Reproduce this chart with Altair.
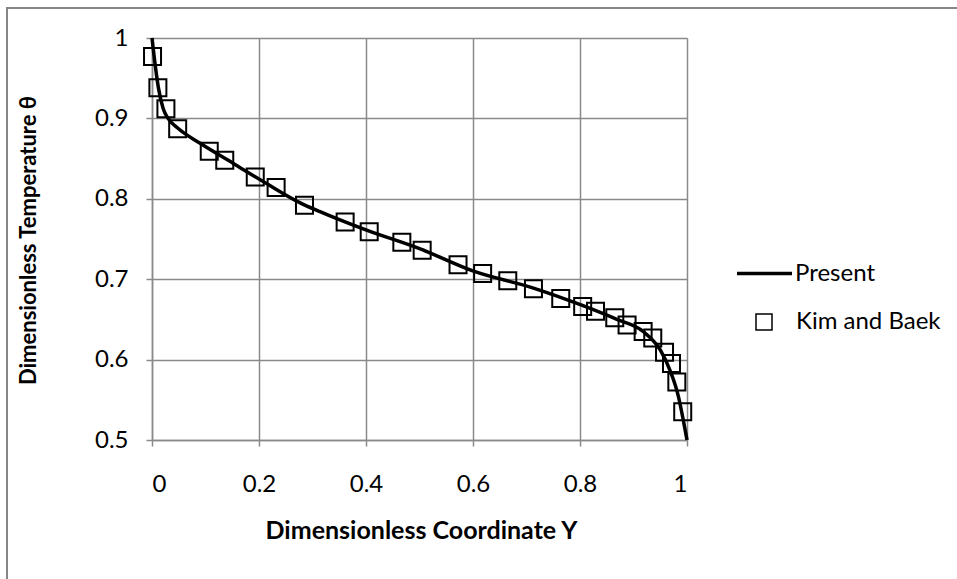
import altair as alt
import pandas as pd

# "Present" solution curve
present_x = [0.0, 0.004, 0.012, 0.021, 0.030, 0.048, 0.09, 0.152, 0.214, 0.277, 0.314,
             0.401, 0.5, 0.601, 0.713, 0.802, 0.869, 0.918, 0.950, 0.968, 0.984, 0.993, 1.0]
present_y = [1.0, 0.977, 0.938, 0.912, 0.900, 0.888, 0.869, 0.844, 0.819, 0.795, 0.784,
             0.761, 0.738, 0.710, 0.689, 0.668, 0.650, 0.635, 0.612, 0.587, 0.554, 0.525, 0.5]

# Kim and Baek reference data
kim_x = [0.001, 0.011, 0.026, 0.048, 0.107, 0.136, 0.193, 0.232, 0.285, 0.361, 0.406,
         0.467, 0.505, 0.572, 0.618, 0.665, 0.713, 0.764, 0.805, 0.829, 0.865, 0.888,
         0.918, 0.936, 0.958, 0.971, 0.981, 0.992]
kim_y = [0.977, 0.938, 0.912, 0.887, 0.859, 0.848, 0.827, 0.814, 0.792, 0.771, 0.759,
         0.746, 0.736, 0.718, 0.707, 0.698, 0.688, 0.676, 0.666, 0.660, 0.652, 0.643,
         0.635, 0.627, 0.609, 0.595, 0.572, 0.535]

x_ticks = [0, 0.2, 0.4, 0.6, 0.8, 1.0]
y_ticks = [0.5, 0.6, 0.7, 0.8, 0.9, 1.0]

present_df = pd.DataFrame({"Y": present_x, "theta": present_y, "series": "Present"})
kim_df = pd.DataFrame({"Y": kim_x, "theta": kim_y, "series": "Kim and Baek"})

FONT = "Lato"
GRID = "#8a8a8a"

x_enc = alt.X("Y:Q", scale=alt.Scale(domain=[0, 1], nice=False),
              axis=alt.Axis(values=x_ticks, format="~g", title="Dimensionless Coordinate Y",
                            titleX=269, titleY=90, titleBaseline="middle", titleAlign="center",
                            titleFontSize=25, labelPadding=26))
y_enc = alt.Y("theta:Q", scale=alt.Scale(domain=[0.5, 1], nice=False, zero=False),
              axis=alt.Axis(values=y_ticks, format="~g", title="Dimensionless Temperature θ",
                            titleX=-124, titleY=202, titleAngle=-90, titleBaseline="middle",
                            titleAlign="center", titleFontSize=22, labelPadding=18))

border = alt.Chart(pd.DataFrame({"a": [0]})).mark_rect(
    fill=None, stroke="#868686", strokeWidth=2
).encode(x=alt.value(-145), x2=alt.value(808), y=alt.value(-30), y2=alt.value(545))

line = alt.Chart(present_df).mark_line(strokeWidth=3.5, interpolate="monotone").encode(
    x=x_enc, y=y_enc,
    stroke=alt.Stroke("series:N", scale=alt.Scale(domain=["Present"], range=["black"]),
                      legend=alt.Legend(title=None, orient="none", legendX=583, legendY=206,
                                        symbolType="stroke", symbolSize=3025,
                                        symbolStrokeWidth=3.5, labelOffset=1)),
)

points = alt.Chart(kim_df).mark_point(filled=False, size=289, strokeWidth=2, opacity=1,
                                      color="black").encode(
    x="Y:Q", y="theta:Q",
    shape=alt.Shape("series:N", scale=alt.Scale(domain=["Kim and Baek"], range=["square"]),
                    legend=alt.Legend(title=None, orient="none", legendX=600, legendY=272,
                                      symbolSize=256, symbolStrokeWidth=1.5,
                                      symbolStrokeColor="black", symbolFillColor="white",
                                      labelOffset=20)),
)

chart = alt.layer(border, line, points).properties(
    width=535, height=402,
    autosize=alt.AutoSizeParams(type="none"),
    padding={"left": 152, "top": 38, "right": 270, "bottom": 139},
).configure_view(stroke=None).configure_axis(
    labelFont=FONT, labelFontSize=24, labelColor="black",
    titleFont=FONT, titleFontWeight="bold", titleColor="black",
    gridColor=GRID, gridWidth=1.5, domainColor=GRID, domainWidth=1.5,
    tickColor=GRID, tickWidth=1.5, tickSize=6,
).configure_legend(
    labelFont=FONT, labelFontSize=24, labelColor="black",
)

chart.save("out.html", embed_options={"renderer": "svg", "actions": False})
